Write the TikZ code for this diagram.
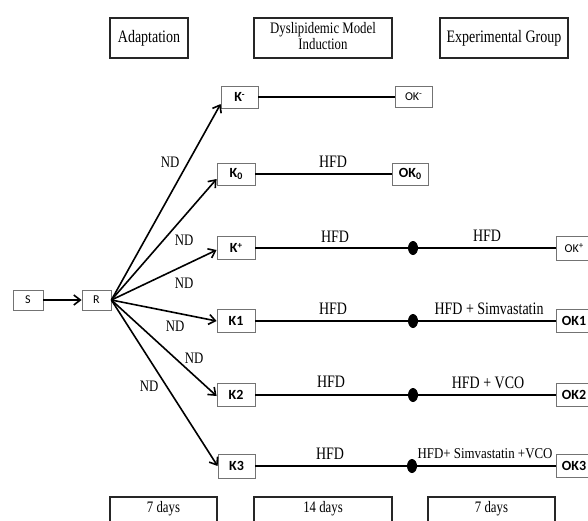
\documentclass[tikz,border=0pt]{standalone}
\usepackage{fontspec}
\usepackage{graphicx}
\setmainfont{Liberation Serif}
\newfontfamily\lblfont{Carlito}
\usetikzlibrary{arrows.meta,calc,shapes.geometric}
\newcommand\nrw[1]{\scalebox{0.8}[1]{#1}}
\newcommand\supm{\raisebox{4pt}{\fontsize{9}{9}\selectfont -}}
\newcommand\supp{\raisebox{4pt}{\fontsize{9}{9}\selectfont +}}
\newcommand\subz{\raisebox{-2pt}{\fontsize{10}{10}\selectfont 0}}
\begin{document}
\begin{tikzpicture}[x=1pt,y=-1pt,
  hdr/.style={draw=black!85, line width=1.5pt, inner sep=0pt, minimum height=40pt,
    font=\fontsize{17.5}{17.5}\selectfont},
  grp/.style={draw=black!55, line width=0.8pt, fill=white, inner sep=0pt,
    minimum height=22pt, minimum width=37pt, font=\lblfont\bfseries\fontsize{14}{14}\selectfont},
  grpl/.style={grp, font=\lblfont\fontsize{12}{12}\selectfont},
  daybox/.style={draw=black!85, line width=1.3pt, inner sep=0pt, anchor=base,
    text height=15pt, text depth=20pt, font=\fontsize{16}{16}\selectfont},
  fan/.style={line width=1.6pt, -{Straight Barb[length=6.5pt,width=10pt]}},
  rowline/.style={line width=2pt},
  blob/.style={ellipse, fill=black, inner sep=0pt, minimum width=10pt, minimum height=14pt},
  lbl/.style={inner sep=0pt, font=\fontsize{17.5}{17.5}\selectfont},
  ndl/.style={inner sep=0pt, font=\fontsize{16}{16}\selectfont},
  ]
\path[use as bounding box] (0,0) rectangle (588,520);
\clip (0,0) rectangle (588,520);

% headers
\node[hdr, minimum width=78pt] (hA) at (149,38) {\nrw{Adaptation}};
\node[hdr, minimum width=138pt, align=center] (hD) at (323,38)
  {\nrw{\fontsize{16}{13.5}\selectfont\begin{tabular}{@{}c@{}}Dyslipidemic Model\\Induction\end{tabular}}};
\node[hdr, minimum width=128pt] (hE) at (504,38) {\nrw{Experimental Group}};

% start
\node[grpl, minimum width=30pt, minimum height=20pt] (S) at (28,300) {S};
\node[grpl, minimum width=29pt, minimum height=20pt] (R) at (96.5,300) {R};
\draw[fan] (S) -- (R);

% K boxes
\node[grp] (Km) at (239.5,97) {K\supm};
\node[grp, minimum width=38pt] (K0) at (236,174) {K\subz};
\node[grp, minimum width=38pt, minimum height=23pt] (Kp) at (236,248) {K\supp};
\node[grp, minimum width=38pt, minimum height=23pt] (K1) at (236,321) {K1};
\node[grp, minimum width=38pt, minimum height=23pt] (K2) at (236,395) {K2};
\node[grp, minimum width=37pt, minimum height=24pt] (K3) at (236.5,466) {K3};

% OK boxes
\node[grpl, minimum height=21pt] (OKm) at (413.5,97) {OK\supm};
\node[grp, minimum width=36pt] (OK0) at (410,174) {OK\subz};
\node[grpl, minimum width=36pt, minimum height=24pt] (OKp) at (574,248) {OK\supp};
\node[grp, minimum width=36pt, minimum height=23pt] (OK1) at (574,321) {OK1};
\node[grp, minimum width=36pt, minimum height=23pt] (OK2) at (574,395) {OK2};
\node[grp, minimum width=36pt, minimum height=23pt] (OK3) at (574,466) {OK3};

% dots
\node[blob] (Dp) at (413,248) {};
\node[blob] (D1) at (413,321) {};
\node[blob] (D2) at (413,395) {};
\node[blob] (D3) at (412,466) {};

% fan arrows
\draw[fan] (R.east) -- ([yshift=-7pt]Km.west);
\draw[fan] (R.east) -- ([yshift=-5pt]K0.west);
\draw[fan] (R.east) -- ([yshift=-2pt]Kp.west);
\draw[fan] (R.east) -- (K1.west);
\draw[fan] (R.east) -- ([yshift=-1pt]K2.west);
\draw[fan] (R.east) -- (K3.west);

% ND labels
\node[ndl] (nd1) at (170,162) {\nrw{ND}};
\node[ndl] (nd2) at (184,240) {\nrw{ND}};
\node[ndl] (nd3) at (184,283) {\nrw{ND}};
\node[ndl] (nd4) at (175,326) {\nrw{ND}};
\node[ndl] (nd5) at (194,358) {\nrw{ND}};
\node[ndl] (nd6) at (149,386) {\nrw{ND}};

% row lines
\draw[rowline] (Km) -- (OKm);
\draw[rowline] (K0) -- (OK0);
\draw[rowline] (Kp) -- (Dp) -- (OKp);
\draw[rowline] (K1) -- (D1) -- (OK1);
\draw[rowline] (K2) -- (D2) -- (OK2);
\draw[rowline] (K3) -- (D3) -- (OK3);

% row labels
\node[lbl] (l0) at (333,162) {\nrw{HFD}};
\node[lbl] (lp) at (335,237) {\nrw{HFD}};
\node[lbl] (lpr) at (487,236) {\nrw{HFD}};
\node[lbl] (l1) at (333,309) {\nrw{HFD}};
\node[lbl] (l1r) at (489,309) {\nrw{HFD + Simvastatin}};
\node[lbl] (l2) at (331,382) {\nrw{HFD}};
\node[lbl] (l2r) at (488,383) {\nrw{HFD + VCO}};
\node[lbl] (l3) at (330,454) {\nrw{HFD}};
\node[inner sep=0pt, font=\fontsize{15}{15}\selectfont] (l3r) at (485,454)
  {\scalebox{0.86}[1]{HFD+ Simvastatin +VCO}};

% duration boxes
\node[daybox, minimum width=107pt] (d1) at (163.5,512) {\nrw{7 days}};
\node[daybox, minimum width=138pt] (d2) at (323,512) {\nrw{14 days}};
\node[daybox, minimum width=127pt] (d3) at (491.5,512) {\nrw{7 days}};
\end{tikzpicture}
\end{document}
